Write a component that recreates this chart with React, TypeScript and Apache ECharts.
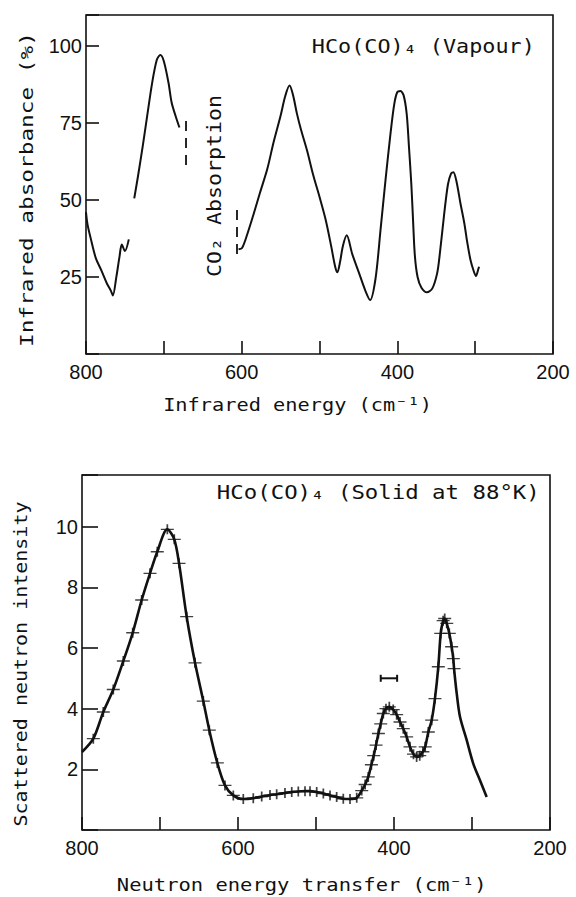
import React, { useEffect, useRef } from "react";
import * as echarts from "echarts";

// ---- Top panel: infrared absorbance of HCo(CO)4 vapour ----
const irSeg1X = [800, 798, 794, 787.5, 780, 773, 768, 765.5, 761, 757, 754, 750, 745];
const irSeg1Y = [46, 42, 37.6, 31.2, 27, 22.8, 20.5, 19, 25, 31.5, 35.5, 33.4, 37.2];

const irSeg2X = [738, 733, 727, 722, 715, 709, 704.5, 700, 694, 690, 685, 680];
const irSeg2Y = [50.5, 58, 67.6, 76.2, 88, 95.5, 97, 95, 88, 81.6, 77.3, 73.5];

const irSeg3X = [
  604, 599.5, 593, 585, 576, 567, 559, 550, 544, 538.5, 534, 529, 524, 516, 508, 500, 492, 485, 480,
  477, 473.5, 470, 465, 458, 449.5, 441, 435, 428, 421.5, 415, 409, 404, 400, 396, 392, 388, 385, 382,
  380, 377.5, 374, 369, 362, 355, 349, 346, 340, 335, 331, 328, 324, 319, 314, 310, 306, 302, 299, 296, 295,
];
const irSeg3Y = [
  34, 34.4, 38.7, 45.1, 52.7, 60.1, 68.7, 77.3, 83.7, 87.1, 84, 78, 73, 66, 58, 51, 43.5, 35, 28.5,
  26.5, 30, 35, 38.5, 32.5, 26.5, 20.5, 17.5, 24.5, 40.5, 56.9, 71, 81, 85, 85.3, 84, 78, 67, 55,
  44.5, 32, 25, 21.5, 20, 21.3, 26, 31.2, 45, 55, 58.5, 59, 56, 49, 42.5, 36, 30.5, 27, 25.3, 27.5, 28.3,
];

// CO2 absorption band markers (dashed)
const co2Mark1X = [671.5, 671.5];
const co2Mark1Y = [75.6, 60.8];
const co2Mark2X = [606, 606];
const co2Mark2Y = [46.7, 31.2];

// ---- Bottom panel: scattered neutron intensity, solid at 88 K ----
const neutronStartX = [800];
const neutronStartY = [2.57];
const neutronPointX = [
  785.5, 772.7, 759.9, 747, 735, 723.5, 712.8, 703.5, 690.6, 681.7, 675.6, 665.8, 655.1, 644.5, 636.8,
  626.5, 616.7, 606, 593.2, 580.4, 569.6, 559, 550.4, 539.8, 531.1, 522.7, 514.1, 507.7, 499.1, 490.6,
  482, 473.5, 465, 456.4, 447.8, 441.4, 437, 433, 429, 426, 423, 420, 417, 413.7, 410.3, 406, 401,
  396.6, 392.3, 388.1, 383.8, 379.5, 375, 371, 367, 363, 360, 356, 351.7, 347.5, 343.2, 340.1, 337,
  335, 332.4, 329.1, 326.1, 324, 323,
];
const neutronPointY = [
  3.01, 3.89, 4.63, 5.57, 6.5, 7.58, 8.46, 9.17, 9.91, 9.58, 8.79, 7.03, 5.51, 4.25, 3.29,
  2.21, 1.47, 1.14, 1.02, 1.05, 1.1, 1.15, 1.18, 1.22, 1.25, 1.27, 1.28, 1.28, 1.25, 1.2,
  1.14, 1.09, 1.03, 1.02, 1.06, 1.3, 1.5, 1.75, 2.15, 2.45, 2.8, 3.18, 3.5, 3.84, 4.0, 4.06, 3.97,
  3.8, 3.56, 3.34, 3.07, 2.74, 2.5, 2.41, 2.45, 2.58, 2.74, 3.23, 3.62, 4.33, 5.38, 6.48, 6.9,
  6.97, 6.81, 6.48, 6.04, 5.65, 5.32,
];
const neutronTailX = [319.6, 315.4, 306.8, 298.4, 289.8, 281.2];
const neutronTailY = [4.5, 3.73, 2.96, 2.19, 1.64, 1.09];

// instrumental resolution bar
const resolutionX = [417, 396];
const resolutionY = [5, 5];

// axis ticks / labels
const energyLabels = [800, 600, 400, 200];
const irYLabels = [25, 50, 75, 100];
const neutronYLabels = [2, 4, 6, 8, 10];

const zip = (xs: number[], ys: number[]) => xs.map((x, i) => [x, ys[i]]);

const LABEL_FONT = "Liberation Sans";
const TITLE_FONT = "DejaVu Sans Mono";
const INK = "#111";

function title(
  text: string,
  x: number,
  y: number,
  size: number,
  targetWidth: number,
  rotated = false
) {
  const natural = text.length * 0.602 * size;
  return {
    type: "text",
    x,
    y,
    rotation: rotated ? Math.PI / 2 : 0,
    scaleX: targetWidth / natural,
    silent: true,
    style: {
      text,
      fontSize: size,
      fontFamily: TITLE_FONT,
      fill: INK,
      align: "center",
      verticalAlign: "middle",
      textAlign: "center",
      textVerticalAlign: "middle",
    },
  };
}

const xAxisCommon = (gridIndex: number) => ({
  type: "value",
  gridIndex,
  min: 200,
  max: 800,
  interval: 100,
  inverse: true,
  axisLine: { show: false },
  splitLine: { show: false },
  axisTick: { show: true, inside: true, length: 13, lineStyle: { color: INK, width: 1.6 } },
  axisLabel: {
    margin: 8,
    fontSize: 20,
    fontFamily: LABEL_FONT,
    color: INK,
    formatter: (v: number) => (energyLabels.includes(v) ? String(v) : ""),
  },
});

const option: any = {
  animation: false,
  backgroundColor: "#fff",
  grid: [
    {
      left: 86,
      top: 15,
      width: 467,
      height: 339,
      show: true,
      borderColor: INK,
      borderWidth: 1.6,
      backgroundColor: "transparent",
    },
    {
      left: 82,
      top: 475,
      width: 468,
      height: 355,
      show: true,
      borderColor: INK,
      borderWidth: 1.6,
      backgroundColor: "transparent",
    },
  ],
  xAxis: [xAxisCommon(0), xAxisCommon(1)],
  yAxis: [
    {
      type: "value",
      gridIndex: 0,
      min: 0,
      max: 110,
      interval: 25,
      axisLine: { show: false },
      splitLine: { show: false },
      axisTick: { show: true, inside: true, length: 13, lineStyle: { color: INK, width: 1.6 } },
      axisLabel: {
        margin: 4,
        fontSize: 20,
        fontFamily: LABEL_FONT,
        color: INK,
        formatter: (v: number) => (irYLabels.includes(v) ? String(v) : ""),
      },
    },
    {
      type: "value",
      gridIndex: 1,
      min: 0,
      max: 11.7,
      interval: 2,
      axisLine: { show: false },
      splitLine: { show: false },
      axisTick: { show: true, inside: true, length: 16, lineStyle: { color: INK, width: 1.6 } },
      axisLabel: {
        margin: 4,
        fontSize: 20,
        fontFamily: LABEL_FONT,
        color: INK,
        formatter: (v: number) => (neutronYLabels.includes(v) ? String(v) : ""),
      },
    },
  ],
  series: [
    ...[
      zip(irSeg1X, irSeg1Y),
      zip(irSeg2X, irSeg2Y),
      zip(irSeg3X, irSeg3Y),
    ].map((data) => ({
      type: "line",
      xAxisIndex: 0,
      yAxisIndex: 0,
      data,
      smooth: 0.3,
      symbol: "none",
      lineStyle: { color: INK, width: 2 },
      silent: true,
    })),
    ...[zip(co2Mark1X, co2Mark1Y), zip(co2Mark2X, co2Mark2Y)].map((data) => ({
      type: "line",
      xAxisIndex: 0,
      yAxisIndex: 0,
      data,
      symbol: "none",
      lineStyle: { color: INK, width: 1.8, type: [10, 7] },
      silent: true,
    })),
    {
      type: "line",
      xAxisIndex: 1,
      yAxisIndex: 1,
      data: [
        ...zip(neutronStartX, neutronStartY),
        ...zip(neutronPointX, neutronPointY),
        ...zip(neutronTailX, neutronTailY),
      ],
      smooth: 0.3,
      symbol: "none",
      lineStyle: { color: INK, width: 2.6 },
      silent: true,
    },
    {
      type: "scatter",
      xAxisIndex: 1,
      yAxisIndex: 1,
      data: zip(neutronPointX, neutronPointY),
      symbol: "path://M0,5H13M6.5,0V10",
      symbolSize: [13, 10],
      itemStyle: { color: INK, borderColor: INK, borderWidth: 1.5 },
      silent: true,
    },
    {
      type: "line",
      xAxisIndex: 1,
      yAxisIndex: 1,
      data: zip(resolutionX, resolutionY),
      symbol: "rect",
      symbolSize: [2, 7],
      showSymbol: true,
      itemStyle: { color: INK },
      lineStyle: { color: INK, width: 2 },
      silent: true,
    },
  ],
  graphic: [
    title("Infrared absorbance (%)", 27.3, 189.5, 18, 315, true),
    title("Infrared energy (cm\u207B\u00B9)", 297.5, 405, 18, 269),
    title("HCo(CO)\u2084 (Vapour)", 423.3, 46.5, 20, 223),
    title("CO\u2082 Absorption", 214, 186, 19, 182, true),
    title("HCo(CO)\u2084 (Solid at 88\u00B0K)", 378.3, 493, 19, 323),
    title("Scattered neutron intensity", 20.5, 664, 18, 325, true),
    title("Neutron energy transfer (cm\u207B\u00B9)", 301.7, 885, 18, 370),
  ],
};

export default function App() {
  const ref = useRef<HTMLDivElement>(null);
  useEffect(() => {
    if (!ref.current) return;
    const chart = echarts.init(ref.current, null, { renderer: "svg" });
    chart.setOption(option);
    return () => chart.dispose();
  }, []);
  return (
    <div
      ref={ref}
      style={{ position: "fixed", left: 0, top: 0, width: 576, height: 897, background: "#fff" }}
    />
  );
}
